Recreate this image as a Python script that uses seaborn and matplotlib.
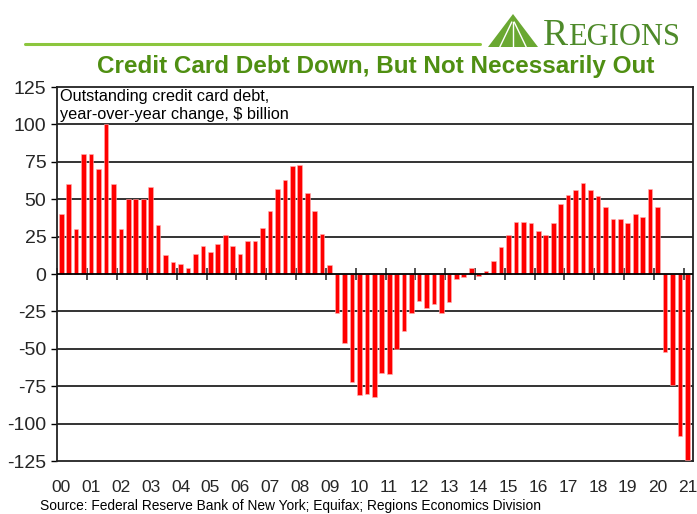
import matplotlib
matplotlib.use("Agg")
import matplotlib.pyplot as plt
import seaborn as sns
import pandas as pd
from matplotlib.patches import Polygon

# ---- data (year-over-year change in credit card debt, $ billion, quarterly) ----
years = list(range(2000, 2022))
quarters = [f"{y}Q{q}" for y in range(2000, 2021) for q in range(1, 5)] + ["2021Q1"]
values = [
    40, 60, 30, 80,      # 2000
    80, 70, 100, 60,     # 2001
    30, 50, 50, 50,      # 2002
    58, 33, 13, 8,       # 2003
    7, 4, 13.5, 19,      # 2004
    15, 20, 26, 19,      # 2005
    13.5, 22, 22, 31,    # 2006
    42, 57, 63, 72.5,    # 2007
    73, 54, 42, 27,      # 2008
    6, -26, -46, -72,    # 2009
    -81, -80, -82, -66,  # 2010
    -67, -50, -38, -26,  # 2011
    -18, -23, -20, -26,  # 2012
    -19, -3.5, -2, 4,    # 2013
    -1.5, 2, 9, 18,      # 2014
    26, 35, 35, 34,      # 2015
    29, 26, 34, 47,      # 2016
    53, 56, 61, 56,      # 2017
    52, 45, 37, 37,      # 2018
    34, 40, 38, 57,      # 2019
    45, -52, -74, -108,  # 2020
    -124,                # 2021
]
year_labels = [f"{y % 100:02d}" for y in years]
y_ticks = [125, 100, 75, 50, 25, 0, -25, -50, -75, -100, -125]

df = pd.DataFrame({"quarter": quarters, "change": values})

sns.set_style("white")
plt.rcParams["font.family"] = ["Liberation Sans", "DejaVu Sans"]
plt.rcParams["axes.unicode_minus"] = False

fig = plt.figure(figsize=(6.97, 5.14), dpi=100)
ax = fig.add_axes([57.5 / 697, 1 - 461 / 514, (693 - 57.5) / 697, (461 - 87) / 514])

sns.barplot(data=df, x="quarter", y="change", order=quarters, color="#ff0000",
            saturation=1, width=0.62, ax=ax, zorder=3,
            edgecolor="#ffb0b0", linewidth=0.4)

ax.set_ylim(-125, 125)
ax.set_xlim(-0.5, 84.75)
ax.set_yticks(y_ticks)
ax.set_yticklabels([str(t) for t in y_ticks], fontsize=14)
ax.set_xticks(range(0, 85, 4))
ax.set_xticklabels(year_labels, fontsize=12.5)
ax.tick_params(axis="x", length=0, pad=14)
ax.tick_params(axis="y", length=4, width=1, direction="out", color="black", pad=4, left=True)
ax.set_xlabel("")
ax.set_ylabel("")

for t in y_ticks:
    if t not in (125, -125, 0):
        ax.axhline(t, color="#111111", lw=1.2, zorder=1)
ax.axhline(0, color="black", lw=1.3, zorder=4)

for s in ax.spines.values():
    s.set_visible(True)
    s.set_color("#222222")
    s.set_linewidth(1.3)

# year tick marks crossing the zero line
sec = ax.secondary_xaxis(0.5)
sec.set_xticks([p - 0.5 for p in range(0, 85, 4)])
sec.set_xticklabels([])
sec.tick_params(axis="x", direction="inout", length=9, width=1.2, color="#333333")
sec.spines["bottom"].set_visible(False)
sec.spines["top"].set_visible(False)

ax.text(0.004, 0.995,
        "Outstanding credit card debt,\nyear-over-year change, $ billion",
        transform=ax.transAxes, ha="left", va="top", fontsize=11.7,
        linespacing=1.25, color="black", zorder=5)

# title and header
fig.text(376 / 697, 1 - 67 / 514, "Credit Card Debt Down, But Not Necessarily Out",
         ha="center", va="center", fontsize=17.5, fontweight="bold", color="#4f8f12")
fig.add_artist(plt.Line2D([25 / 697, 480 / 697], [1 - 44 / 514, 1 - 44 / 514],
                          color="#8cc63e", lw=2.2, transform=fig.transFigure))

# logo
tri = Polygon([(488 / 697, 1 - 47 / 514), (513 / 697, 1 - 14 / 514), (538 / 697, 1 - 47 / 514)],
              closed=True, transform=fig.transFigure, facecolor="#6aa832", edgecolor="none")
fig.add_artist(tri)
for dx in (-6, 0, 6):
    fig.add_artist(plt.Line2D([(513 + dx * 0.2) / 697, (513 + dx * 2.2) / 697],
                              [1 - 22 / 514, 1 - 47 / 514],
                              color="white", lw=1.0, transform=fig.transFigure))
fig.text(543 / 697, 1 - 45 / 514, "R", ha="left", va="baseline", fontsize=27,
         family=["Liberation Serif", "DejaVu Serif"], color="#4e8a2a")
fig.text(568 / 697, 1 - 45 / 514, "EGIONS", ha="left", va="baseline", fontsize=22,
         family=["Liberation Serif", "DejaVu Serif"], color="#4e8a2a")

fig.text(40 / 697, 1 - 506 / 514,
         "Source: Federal Reserve Bank of New York; Equifax; Regions Economics Division",
         ha="left", va="center", fontsize=9.9, color="black")

fig.savefig("out.png", dpi=100)
